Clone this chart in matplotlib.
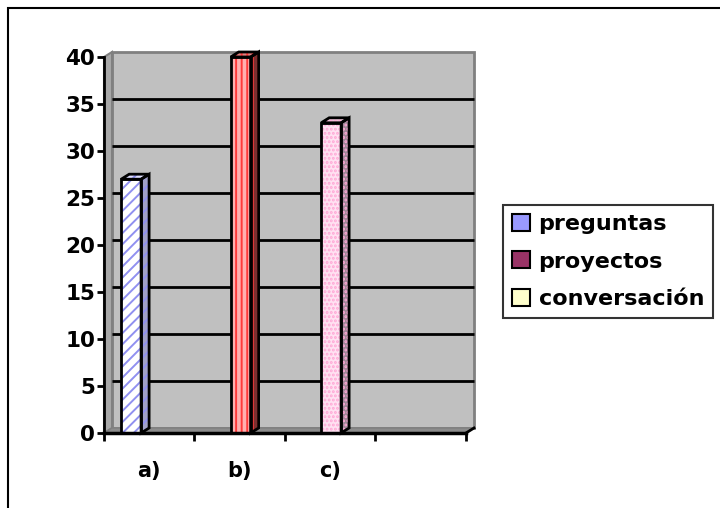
import matplotlib
matplotlib.use("Agg")
import matplotlib.pyplot as plt
from matplotlib.patches import Polygon, Rectangle, Patch

# ---- data ----
categories = ["a)", "b)", "c)", ""]
series_names = ["preguntas", "proyectos", "conversación"]
preguntas = [27, 0, 0, 0]
proyectos = [0, 40, 0, 0]
conversacion = [0, 0, 33, 0]
yticks = [0, 5, 10, 15, 20, 25, 30, 35, 40]

series_values = [preguntas, proyectos, conversacion]
legend_colors = ["#9999ff", "#993366", "#ffffcc"]
# bar styling per series: face, hatch, hatch color, side face, top face
bar_styles = [
    dict(face="#ffffff", hatch="///", hcol="#9090f0", side="#a0a0c8", top="#e0e0ff"),
    dict(face="#ffb0b0", hatch="|||", hcol="#ff3a3a", side="#7a3030", top="#e08080"),
    dict(face="#ffe2f2", hatch="....", hcol="#ffa8d6", side="#a08898", top="#e8c8d8"),
]
bar_offsets = [0.30, 0.51, 0.51]
bar_width = 0.22

plt.rcParams["hatch.linewidth"] = 1.4
FONT = "DejaVu Sans"

W, H = 720, 508
fig = plt.figure(figsize=(W / 100, H / 100), dpi=100)
fig.patch.set_facecolor("white")

left_px, right_px, bottom_px, top_px = 104, 466, 433, 57
ax = fig.add_axes([left_px / W, 1 - bottom_px / H,
                   (right_px - left_px) / W, (bottom_px - top_px) / H])
ax.set_xlim(0, 4)
ax.set_ylim(0, 40)
ax.patch.set_visible(False)

dx = 8 / (right_px - left_px) * 4
dy = 5 / (bottom_px - top_px) * 40

# walls
ax.add_patch(Polygon([(dx, dy), (4 + dx, dy), (4 + dx, 40 + dy), (dx, 40 + dy)],
                     closed=True, facecolor="#c0c0c0", edgecolor="#808080",
                     lw=2, zorder=0, clip_on=False))
ax.add_patch(Polygon([(0, 0), (dx, dy), (dx, 40 + dy), (0, 40)],
                     closed=True, facecolor="#a8a8a8", edgecolor="#808080",
                     lw=1.5, zorder=0, clip_on=False))
ax.add_patch(Polygon([(0, 0), (4, 0), (4 + dx, dy), (dx, dy)],
                     closed=True, facecolor="#8c8c8c", edgecolor="#808080",
                     lw=1, zorder=0.5, clip_on=False))

# gridlines on back wall
for v in yticks[1:-1]:
    ax.plot([dx, 4 + dx], [v + dy, v + dy], color="black", lw=2, zorder=1,
            clip_on=False, solid_capstyle="butt")

# bars
for si, vals in enumerate(series_values):
    st = bar_styles[si]
    for ci, v in enumerate(vals):
        if v <= 0:
            continue
        x0 = ci + bar_offsets[si] - bar_width / 2
        x1 = x0 + bar_width
        front = [(x0, 0), (x1, 0), (x1, v), (x0, v)]
        side = [(x1, 0), (x1 + dx, dy), (x1 + dx, v + dy), (x1, v)]
        top = [(x0, v), (x1, v), (x1 + dx, v + dy), (x0 + dx, v + dy)]
        for poly, fc in ((front, st["face"]), (side, st["side"]), (top, st["top"])):
            ax.add_patch(Polygon(poly, closed=True, facecolor=fc, edgecolor=st["hcol"],
                                 hatch=st["hatch"], lw=0, zorder=3, clip_on=False))
            ax.add_patch(Polygon(poly, closed=True, facecolor="none", edgecolor="black",
                                 lw=2, zorder=4, clip_on=False, joinstyle="miter"))

# axes styling
for s in ("top", "right"):
    ax.spines[s].set_visible(False)
ax.spines["left"].set_linewidth(2)
ax.spines["bottom"].set_linewidth(2.5)
ax.spines["left"].set_zorder(5)
ax.spines["bottom"].set_zorder(5)
ax.plot([4, 4 + dx], [0, dy], color="black", lw=2, clip_on=False, zorder=5)

ax.set_yticks(yticks)
ax.set_yticklabels([str(t) for t in yticks])
ax.tick_params(axis="y", direction="out", length=5, width=2, pad=1.5,
               labelsize=15.5)
ax.set_xticks(range(5))
ax.set_xticklabels([""] * 5)
ax.tick_params(axis="x", which="major", direction="out", length=6, width=2)
ax.set_xticks([i + 0.5 for i in range(4)], minor=True)
ax.set_xticklabels(categories, minor=True)
ax.tick_params(axis="x", which="minor", length=0, pad=20, labelsize=15)
for lab in ax.get_yticklabels() + ax.get_xticklabels(minor=True):
    lab.set_fontfamily(FONT)
    lab.set_fontweight("bold")

# legend
handles = [Patch(facecolor=c, edgecolor="black", lw=1.5) for c in legend_colors]
leg = fig.legend(handles, series_names, loc="upper left",
                 bbox_to_anchor=(503 / W, 1 - 205 / H), borderaxespad=0,
                 prop={"family": FONT, "weight": "bold", "size": 16},
                 handlelength=0.8, handleheight=0.8, handletextpad=0.4,
                 labelspacing=0.78, borderpad=0.4, fancybox=False,
                 frameon=True, edgecolor="black")
leg.get_frame().set_linewidth(1.5)

# outer chart frame
fig.add_artist(Rectangle((8 / W, -0.05), 1.1, 1 - 8 / H + 0.05,
                         transform=fig.transFigure, facecolor="none",
                         edgecolor="black", lw=1.5))

fig.savefig("out.png", dpi=100)
